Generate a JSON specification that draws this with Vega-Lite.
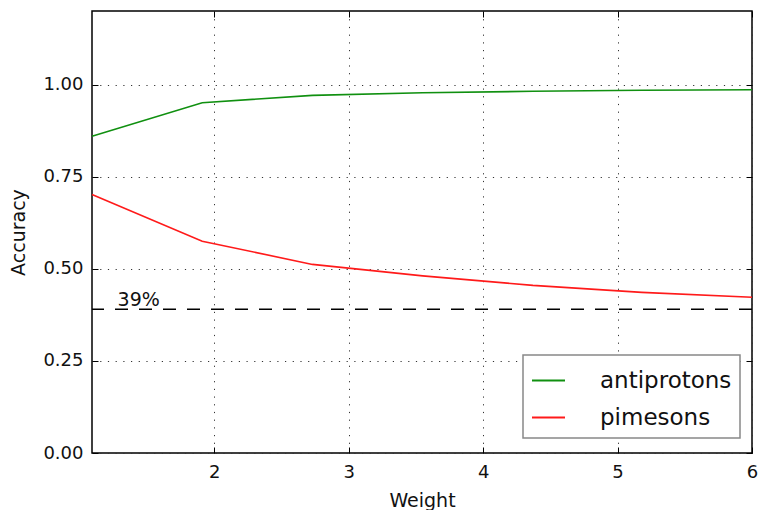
{
  "$schema": "https://vega.github.io/schema/vega-lite/v6.json",
  "width": 660,
  "height": 442,
  "autosize": {"type": "none"},
  "padding": {"left": 92, "top": 11, "right": 9, "bottom": 57},
  "background": "white",
  "config": {
    "font": "DejaVu Sans",
    "view": {"stroke": "black", "strokeWidth": 1.5},
    "axis": {
      "labelFont": "DejaVu Sans",
      "titleFont": "DejaVu Sans",
      "labelFontSize": 18,
      "titleFontSize": 19,
      "titleFontWeight": "normal",
      "labelColor": "#111",
      "titleColor": "#111",
      "labelFlush": false,
      "domain": false,
      "tickColor": "black",
      "tickSize": -6,
      "tickWidth": 1,
      "grid": true,
      "gridColor": "#333",
      "gridDash": [1.2, 6.5],
      "gridWidth": 1,
      "gridOpacity": 1
    }
  },
  "datasets": {
    "acc": [
      {"Weight": 1.09, "Accuracy": 0.860, "particle": "antiprotons"},
      {"Weight": 1.91, "Accuracy": 0.951, "particle": "antiprotons"},
      {"Weight": 2.73, "Accuracy": 0.971, "particle": "antiprotons"},
      {"Weight": 3.55, "Accuracy": 0.978, "particle": "antiprotons"},
      {"Weight": 4.37, "Accuracy": 0.982, "particle": "antiprotons"},
      {"Weight": 5.18, "Accuracy": 0.985, "particle": "antiprotons"},
      {"Weight": 6.00, "Accuracy": 0.986, "particle": "antiprotons"},
      {"Weight": 1.09, "Accuracy": 0.702, "particle": "pimesons"},
      {"Weight": 1.91, "Accuracy": 0.575, "particle": "pimesons"},
      {"Weight": 2.73, "Accuracy": 0.512, "particle": "pimesons"},
      {"Weight": 3.55, "Accuracy": 0.481, "particle": "pimesons"},
      {"Weight": 4.37, "Accuracy": 0.455, "particle": "pimesons"},
      {"Weight": 5.18, "Accuracy": 0.436, "particle": "pimesons"},
      {"Weight": 6.00, "Accuracy": 0.423, "particle": "pimesons"}
    ],
    "note": [
      {"Weight": 1.28, "Accuracy": 0.40, "label": "39%"}
    ]
  },
  "layer": [
    {
      "data": {"name": "acc"},
      "mark": {"type": "line", "strokeWidth": 1.6},
      "encoding": {
        "x": {
          "field": "Weight", "type": "quantitative",
          "scale": {"domain": [1.09, 6], "nice": false, "zero": false},
          "axis": {"values": [2, 3, 4, 5, 6], "title": "Weight", "labelPadding": 16, "titlePadding": 10}
        },
        "y": {
          "field": "Accuracy", "type": "quantitative",
          "scale": {"domain": [0, 1.2], "nice": false},
          "axis": {"values": [0, 0.25, 0.5, 0.75, 1.0], "format": ".2f", "title": "Accuracy", "labelPadding": 15, "titlePadding": 14}
        },
        "color": {
          "field": "particle", "type": "nominal",
          "scale": {"domain": ["antiprotons", "pimesons"], "range": ["#109010", "#ff1a1a"]},
          "legend": {
            "title": null,
            "orient": "none",
            "legendX": 431,
            "legendY": 344,
            "symbolType": "stroke",
            "symbolSize": 1089,
            "symbolStrokeWidth": 2,
            "labelFont": "DejaVu Sans",
            "labelFontSize": 23,
            "labelColor": "#111",
            "labelOffset": 34,
            "rowPadding": 7,
            "padding": 8,
            "strokeColor": "#888",
            "fillColor": "white",
            "cornerRadius": 0,
            "encode": {"legend": {"update": {"strokeWidth": {"value": 1.5}}}}
          }
        }
      }
    },
    {
      "data": {"values": [{"v": 0.39}]},
      "mark": {"type": "rule", "color": "black", "strokeWidth": 1.5, "strokeDash": [13, 11]},
      "encoding": {"y": {"field": "v", "type": "quantitative", "axis": null}}
    },
    {
      "data": {"name": "note"},
      "mark": {"type": "text", "align": "left", "baseline": "alphabetic", "fontSize": 19, "font": "DejaVu Sans", "color": "#111"},
      "encoding": {
        "x": {"field": "Weight", "type": "quantitative", "axis": null},
        "y": {"field": "Accuracy", "type": "quantitative", "axis": null},
        "text": {"field": "label"}
      }
    },
    {
      "data": {"name": "acc"},
      "mark": {"type": "point", "opacity": 0},
      "encoding": {
        "x": {
          "field": "Weight", "type": "quantitative",
          "axis": {"orient": "top", "values": [2, 3, 4, 5, 6], "labels": false, "grid": false, "title": null}
        },
        "y": {
          "field": "Accuracy", "type": "quantitative",
          "axis": {"orient": "right", "values": [0, 0.25, 0.5, 0.75, 1.0], "labels": false, "grid": false, "title": null}
        }
      }
    }
  ],
  "resolve": {"axis": {"x": "independent", "y": "independent"}}
}
